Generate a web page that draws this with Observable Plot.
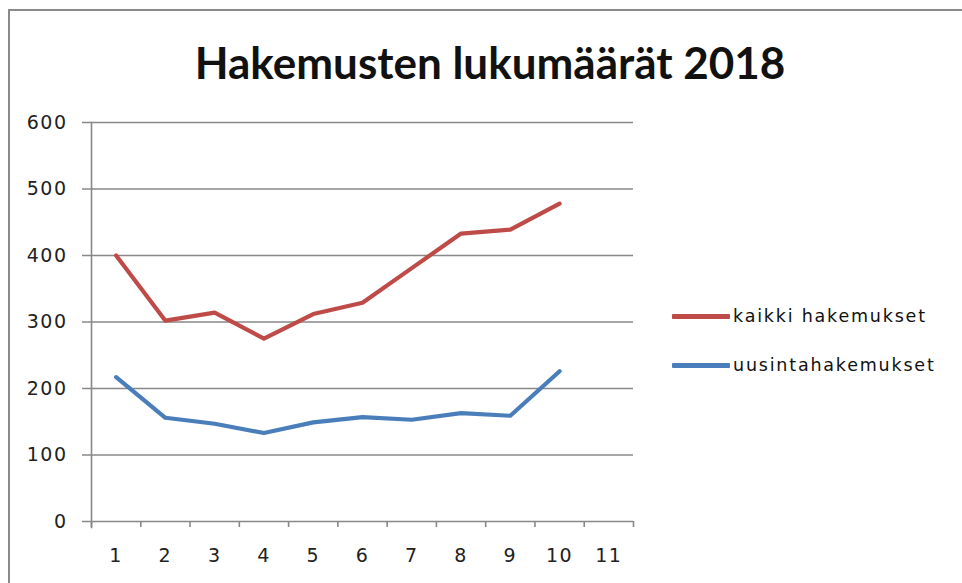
<!DOCTYPE html>
<html>
<head>
<meta charset="utf-8">
<script src="https://cdn.jsdelivr.net/npm/d3@7"></script>
<script src="https://cdn.jsdelivr.net/npm/@observablehq/plot@0.6"></script>
<style>
  html, body { margin: 0; padding: 0; background: #fff; }
  #wrap { position: relative; width: 962px; height: 583px; overflow: hidden; background: #fff; }
  #border { position: absolute; left: 8px; top: 9px; width: 1000px; height: 600px; border: 2px solid #8a8a8a; box-sizing: border-box; }
  #title { position: absolute; left: 0; width: 980px; top: 35px; text-align: center; font-family: Lato, "Open Sans", sans-serif; font-weight: bold; font-size: 44px; color: #111; line-height: 54px; }
  #chart { position: absolute; left: 0; top: 0; }
  #chart svg text { font-size: 19px; letter-spacing: 1.5px; }
  #legend { position: absolute; left: 672px; top: 302px; font-family: "DejaVu Sans", sans-serif; font-size: 17.5px; color: #111; letter-spacing: 1.8px; }
  .item { display: flex; align-items: center; height: 28px; margin-bottom: 21px; }
  .sw { width: 58px; height: 5px; margin-right: 3px; border-radius: 1px; }
</style>
</head>
<body>
<div id="wrap">
  <div id="border"></div>
  <div id="title"></div>
  <div id="chart"></div>
  <div id="legend"></div>
</div>
<script>
const title = "Hakemusten lukumäärät 2018";
const categories = [1, 2, 3, 4, 5, 6, 7, 8, 9, 10, 11];
const months = [1, 2, 3, 4, 5, 6, 7, 8, 9, 10];
const kaikki = [400, 302, 314, 275, 312, 329, 381, 433, 439, 478];
const uusinta = [217, 156, 147, 133, 149, 157, 153, 163, 159, 226];
const seriesNames = ["kaikki hakemukset", "uusintahakemukset"];
const seriesColors = ["#be4b48", "#4a7ebb"];
const yTicks = [0, 100, 200, 300, 400, 500, 600];

document.getElementById("title").textContent = title;

const rows = [];
months.forEach((m, i) => {
  rows.push({month: m, value: kaikki[i], series: seriesNames[0]});
  rows.push({month: m, value: uusinta[i], series: seriesNames[1]});
});

const boundaries = [categories[0] - 0.5, ...categories.map(c => c + 0.5)];

const plot = Plot.plot({
  width: 962,
  height: 583,
  marginLeft: 91,
  marginRight: 329,
  marginTop: 122,
  marginBottom: 62,
  style: {fontFamily: "'DejaVu Sans', sans-serif", fontSize: "19px", background: "transparent", overflow: "visible"},
  x: {type: "linear", domain: [categories[0] - 0.5, categories[categories.length - 1] + 0.5]},
  y: {domain: [yTicks[0], yTicks[yTicks.length - 1]]},
  color: {domain: seriesNames, range: seriesColors},
  marks: [
    Plot.ruleY(yTicks, {stroke: "#888", strokeWidth: 1.6, strokeOpacity: 1, insetLeft: -9}),
    Plot.frame({anchor: "left", stroke: "#888", strokeWidth: 1.6, insetBottom: -6}),
    Plot.axisX({ticks: boundaries, tickSize: 6, tickFormat: () => "", stroke: "#888", strokeWidth: 1.6, label: null}),
    Plot.axisX({ticks: categories, tickSize: 0, tickPadding: 27, tickFormat: d => String(d), fontSize: 19, fill: "#222", label: null}),
    Plot.axisY({ticks: yTicks, tickSize: 0, tickPadding: 24, fontSize: 19, fill: "#222", label: null}),
    Plot.line(rows, {x: "month", y: "value", z: "series", stroke: "series", strokeWidth: 4.2, strokeLinejoin: "round", strokeLinecap: "round"})
  ]
});
document.getElementById("chart").appendChild(plot);

const legend = document.getElementById("legend");
seriesNames.forEach((name, i) => {
  const item = document.createElement("div");
  item.className = "item";
  const sw = document.createElement("div");
  sw.className = "sw";
  sw.style.background = seriesColors[i];
  const t = document.createElement("span");
  t.textContent = name;
  item.appendChild(sw);
  item.appendChild(t);
  legend.appendChild(item);
});
</script>
</body>
</html>
